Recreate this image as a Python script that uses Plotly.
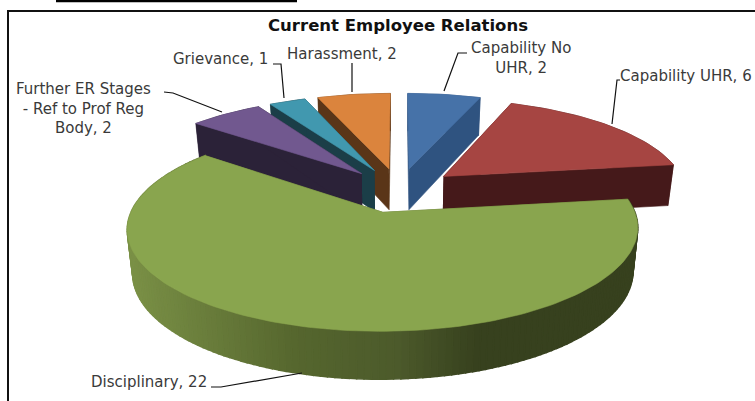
import math
import plotly.graph_objects as go

categories = ["Capability No UHR", "Capability UHR", "Disciplinary",
              "Further ER Stages - Ref to Prof Reg Body", "Grievance", "Harassment"]
values = [2, 6, 22, 2, 1, 2]

label_texts = ["Capability No<br>UHR, 2", "Capability UHR, 6", "Disciplinary, 22",
               "Further ER Stages<br>- Ref to Prof Reg<br>Body, 2", "Grievance, 1", "Harassment, 2"]
label_x = [521, 686, 149, 83, 220, 342]
label_y = [58, 76, 382, 108, 59, 54]

top_colors = ["#4672A8", "#A64542", "#89A54E", "#71588F", "#4198AF", "#DB843D"]
wall_colors = ["#2F5380", "#45191A", "#5A6C30", "#2B2238", "#1B3E48", "#5A3518"]
paint_order = [5, 4, 3, 0, 1, 2]

# view of the tilted disc
X0, Y0, A, B, K = 399.0, 190.0, 243.0, 93.0, 0.154
HEIGHT, KH, SQUEEZE, EXPLODE = 42.0, 0.10, 0.98, 0.24


def top(u, v):
    d = 1 + K * v
    return X0 + A * u / d, Y0 - B * v / d


def bottom(u, v):
    x, y = top(u, v)
    return X0 + (x - X0) * SQUEEZE, y + HEIGHT / (1 + KH * v)


def lerp_hex(c1, c2, t):
    a = [int(c1[i:i + 2], 16) for i in (1, 3, 5)]
    b = [int(c2[i:i + 2], 16) for i in (1, 3, 5)]
    return "#" + "".join(f"{round(p + (q - p) * t):02X}" for p, q in zip(a, b))


grad_x = [130, 300, 400, 480, 640]
grad_c = ["#7A9046", "#55662E", "#4C5A2B", "#37411E", "#37411E"]


def grad(x):
    for i in range(len(grad_x) - 1):
        if x <= grad_x[i + 1]:
            return lerp_hex(grad_c[i], grad_c[i + 1], max(0, (x - grad_x[i]) / (grad_x[i + 1] - grad_x[i])))
    return grad_c[-1]


fig = go.Figure()


def poly(pts, color, lw=0.6):
    fig.add_trace(go.Scatter(x=[p[0] for p in pts], y=[p[1] for p in pts], mode="lines",
                             fill="toself", fillcolor=color, line=dict(color=color, width=lw),
                             hoverinfo="skip", showlegend=False))


total = sum(values)
starts = [sum(values[:i]) / total * 2 * math.pi for i in range(len(values))]
for i in paint_order:
    a0 = starts[i]
    a1 = a0 + values[i] / total * 2 * math.pi
    mid = (a0 + a1) / 2
    cu, cv = EXPLODE * math.sin(mid), EXPLODE * math.cos(mid)
    n = max(8, int((a1 - a0) * 40))
    rim = [(cu + math.sin(a0 + (a1 - a0) * j / n), cv + math.cos(a0 + (a1 - a0) * j / n)) for j in range(n + 1)]
    # outer wall
    if i == 2:
        for j in range(n):
            p, q = rim[j], rim[j + 1]
            poly([top(*p), top(*q), bottom(*q), bottom(*p), top(*p)], grad(top(*p)[0]), 1.5)
    else:
        poly([top(*p) for p in rim] + [bottom(*p) for p in reversed(rim)], wall_colors[i])
    # cut faces
    for e in (rim[0], rim[-1]):
        poly([top(cu, cv), top(*e), bottom(*e), bottom(cu, cv)], wall_colors[i])
    # top face
    poly([top(cu, cv)] + [top(*p) for p in rim] + [top(cu, cv)], top_colors[i])

leaders = [
    [(467, 53), (458, 53), (444, 91)],
    [(620, 80), (617, 80), (612, 124)],
    [(211, 387), (221, 387), (302, 373)],
    [(164, 92), (173, 93), (222, 112)],
    [(273, 64), (281, 64), (284, 98)],
    [(352, 63), (352, 92)],
]
for path in leaders:
    fig.add_trace(go.Scatter(x=[p[0] for p in path], y=[p[1] for p in path], mode="lines",
                             line=dict(color="#111111", width=1.2), hoverinfo="skip", showlegend=False))

for t, x, y in zip(label_texts, label_x, label_y):
    fig.add_annotation(x=x, y=y, text=t, showarrow=False, xanchor="center", yanchor="middle",
                       align="center", font=dict(family="DejaVu Sans", size=15, color="#3A3A3A"))

fig.add_annotation(x=398, y=25, text="<b>Current Employee Relations</b>", showarrow=False,
                   font=dict(family="DejaVu Sans", size=16.5, color="#111111"))

shapes = [
    dict(type="line", x0=8, x1=8, y0=10, y1=401, line=dict(color="#111111", width=2)),
    dict(type="line", x0=8, x1=755, y0=11, y1=11, line=dict(color="#111111", width=2)),
    dict(type="line", x0=56, x1=297, y0=1, y1=1, line=dict(color="#000000", width=2.5)),
]
fig.update_layout(
    width=755, height=401, margin=dict(l=0, r=0, t=0, b=0),
    paper_bgcolor="white", plot_bgcolor="white", shapes=shapes, showlegend=False,
    xaxis=dict(range=[0, 755], visible=False, fixedrange=True),
    yaxis=dict(range=[401, 0], visible=False, fixedrange=True),
)
fig.write_html("out.html", config=dict(displayModeBar=False),
               post_script="document.body.style.margin='0';document.documentElement.style.overflow='hidden';")
